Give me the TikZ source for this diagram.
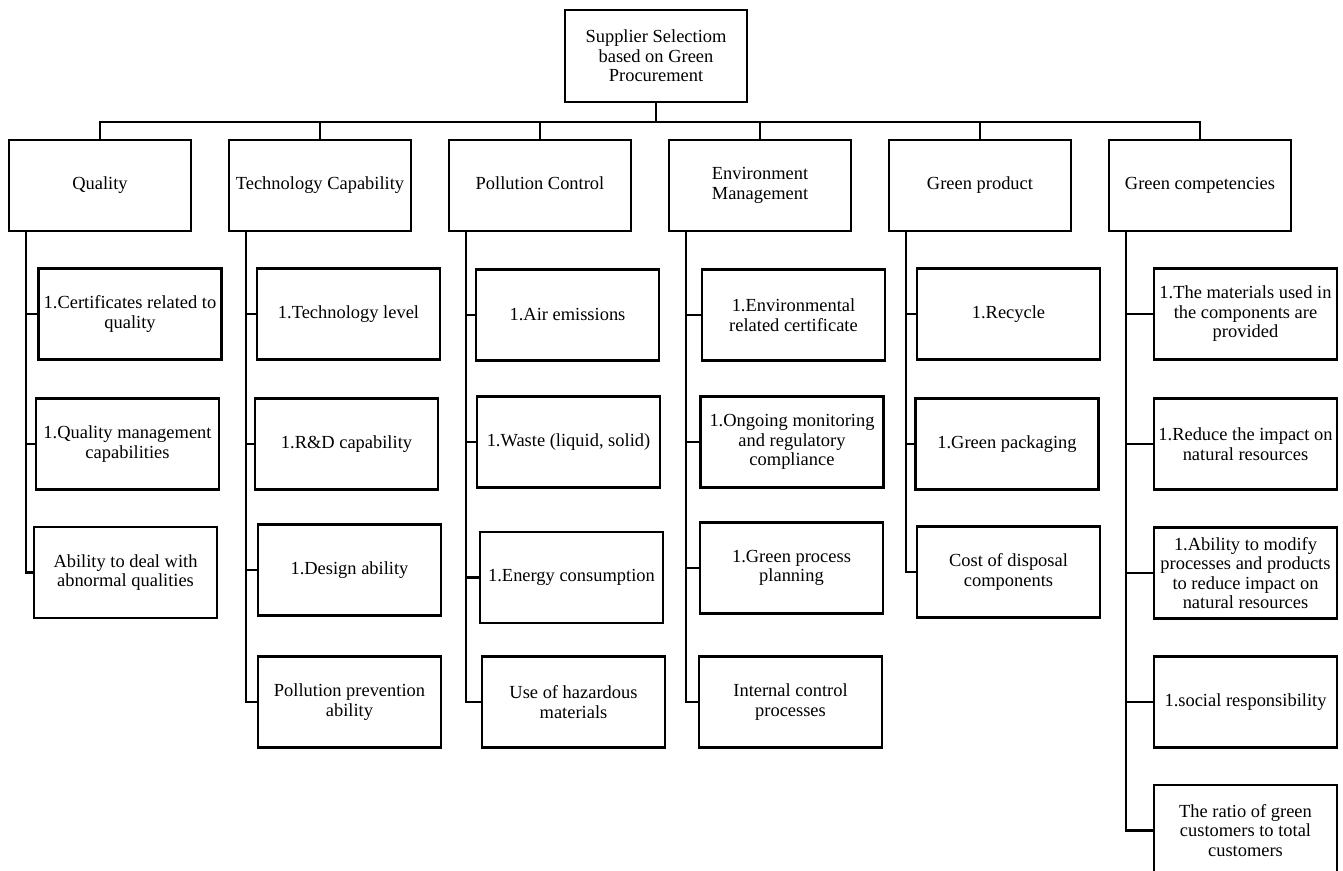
\documentclass[tikz,border=0pt]{standalone}
\usepackage{fontspec}
\setmainfont{Liberation Serif}

\begin{document}
\begin{tikzpicture}[x=0.02cm,y=-0.02cm,line width=1.4pt]
		\tikzstyle{BOX} = [draw, rectangle, inner sep=0pt, align=center, font=\fontsize{10.5}{11.1}\selectfont]
		\tikzstyle{root} = [BOX, minimum width=3.64cm, minimum height=1.84cm]
		\tikzstyle{crit} = [BOX, minimum width=3.64cm, minimum height=1.82cm]
		\tikzstyle{sub} = [BOX, minimum width=3.66cm, minimum height=1.82cm]
		\useasboundingbox (0,0) rectangle (1343,870);

		\node[root] (root) at (656, 56) {Supplier Selectiom\\based on Green\\Procurement};

		\node[crit] (cQua) at (100, 185.5) {Quality};
		\node[crit] (cTec) at (320, 185.5) {Technology Capability};
		\node[crit] (cPol) at (540, 185.5) {Pollution Control\vphantom{y}};
		\node[crit] (cEnv) at (760, 185.5) {Environment\\Management};
		\node[crit] (cPro) at (980, 185.5) {Green product};
		\node[crit] (cCom) at (1200, 185.5) {Green competencies};

		\node[sub] (qOne) at (130, 314) {1.Certificates related to\\quality};
		\node[sub] (qTwo) at (127.5, 444) {1.Quality management\\capabilities};
		\node[sub] (qThr) at (125.5, 572.5) {Ability to deal with\\abnormal qualities};

		\node[sub] (tOne) at (348.5, 314) {1.Technology level};
		\node[sub] (tTwo) at (346.5, 444) {1.R\&D capability};
		\node[sub] (tThr) at (349.5, 570) {1.Design ability};
		\node[sub] (tFou) at (349.5, 702) {Pollution prevention\\ability};

		\node[sub] (pOne) at (567.5, 315) {1.Air emissions};
		\node[sub] (pTwo) at (568.5, 442) {1.Waste (liquid, solid)};
		\node[sub] (pThr) at (571.5, 577.5) {1.Energy consumption};
		\node[sub] (pFou) at (573.5, 702) {Use of hazardous\\materials};

		\node[sub] (eOne) at (793.5, 315) {1.Environmental\\related certificate};
		\node[sub] (eTwo) at (792, 442) {1.Ongoing monitoring\\and regulatory\\compliance};
		\node[sub] (eThr) at (791.5, 568) {1.Green process\\planning};
		\node[sub] (eFou) at (790.5, 702) {Internal control\\processes};

		\node[sub] (gOne) at (1008.5, 314) {1.Recycle};
		\node[sub] (gTwo) at (1007, 444) {1.Green packaging};
		\node[sub] (gThr) at (1008.5, 572) {Cost of disposal\\components};

		\node[sub] (kOne) at (1245.5, 314) {1.The materials used in\\the components are\\provided};
		\node[sub] (kTwo) at (1245.5, 444) {1.Reduce the impact on\\natural resources};
		\node[sub] (kThr) at (1245.5, 573) {1.Ability to modify\\processes and products\\to reduce impact on\\natural resources};
		\node[sub] (kFou) at (1245.5, 702) {1.social responsibility};
		\node[sub] (kFiv) at (1245.5, 830.5) {The ratio of green\\customers to total\\customers};

		% root to criteria
		\draw (root.south) -- ++(0,19) -| (cQua.north);
		\draw (root.south) -- ++(0,19) -| (cTec.north);
		\draw (root.south) -- ++(0,19) -| (cPol.north);
		\draw (root.south) -- ++(0,19) -| (cEnv.north);
		\draw (root.south) -- ++(0,19) -| (cPro.north);
		\draw (root.south) -- ++(0,19) -| (cCom.north);

		% criteria to sub-criteria
		\draw (cQua.south west) ++(18,0) |- (qOne.west);
		\draw (cQua.south west) ++(18,0) |- (qTwo.west);
		\draw (cQua.south west) ++(18,0) |- (qThr.west);

		\draw (cTec.south west) ++(18,0) |- (tOne.west);
		\draw (cTec.south west) ++(18,0) |- (tTwo.west);
		\draw (cTec.south west) ++(18,0) |- (tThr.west);
		\draw (cTec.south west) ++(18,0) |- (tFou.west);

		\draw (cPol.south west) ++(18,0) |- (pOne.west);
		\draw (cPol.south west) ++(18,0) |- (pTwo.west);
		\draw (cPol.south west) ++(18,0) |- (pThr.west);
		\draw (cPol.south west) ++(18,0) |- (pFou.west);

		\draw (cEnv.south west) ++(18,0) |- (eOne.west);
		\draw (cEnv.south west) ++(18,0) |- (eTwo.west);
		\draw (cEnv.south west) ++(18,0) |- (eThr.west);
		\draw (cEnv.south west) ++(18,0) |- (eFou.west);

		\draw (cPro.south west) ++(18,0) |- (gOne.west);
		\draw (cPro.south west) ++(18,0) |- (gTwo.west);
		\draw (cPro.south west) ++(18,0) |- (gThr.west);

		\draw (cCom.south west) ++(18,0) |- (kOne.west);
		\draw (cCom.south west) ++(18,0) |- (kTwo.west);
		\draw (cCom.south west) ++(18,0) |- (kThr.west);
		\draw (cCom.south west) ++(18,0) |- (kFou.west);
		\draw (cCom.south west) ++(18,0) |- (kFiv.west);
\end{tikzpicture}
\end{document}
